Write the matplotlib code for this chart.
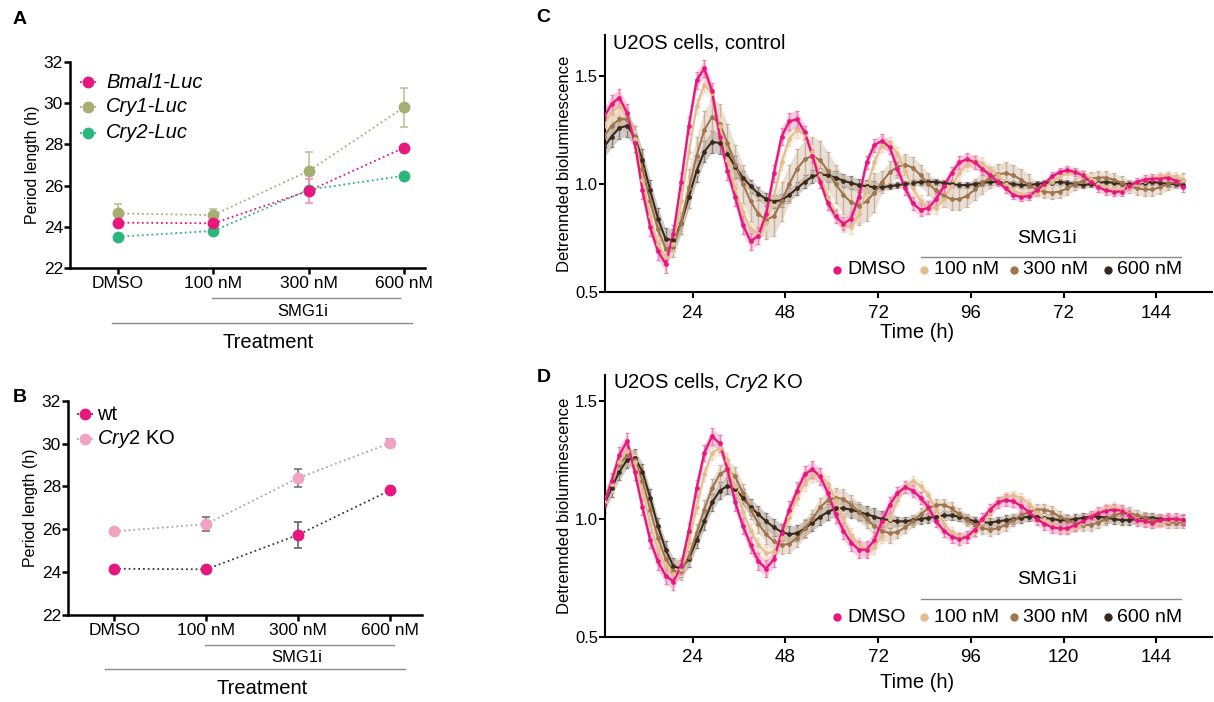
import numpy as np
import matplotlib
matplotlib.use('Agg')
import matplotlib.pyplot as plt
from matplotlib.lines import Line2D

plt.rcParams['font.family'] = ['Liberation Sans', 'DejaVu Sans']
plt.rcParams['mathtext.fontset'] = 'custom'
plt.rcParams['mathtext.rm'] = 'Liberation Sans'
plt.rcParams['mathtext.it'] = 'Liberation Sans:italic'

# ---- period length data (panels A, B) ----
treat = ['DMSO', '100 nM', '300 nM', '600 nM']
bmal1 = [24.2, 24.17, 25.74, 27.84]
bmal1_err = [0.0, 0.0, 0.6, 0.0]
cry1 = [24.65, 24.57, 26.71, 29.8]
cry1_err = [0.45, 0.3, 0.9, 0.95]
cry2 = [23.52, 23.8, 25.8, 26.48]
cry2_err = [0.0, 0.0, 0.0, 0.0]
wt = [24.16, 24.13, 25.74, 27.81]
wt_err = [0.0, 0.0, 0.6, 0.0]
ko = [25.9, 26.24, 28.39, 30.02]
ko_err = [0.0, 0.33, 0.4, 0.2]

# ---- detrended bioluminescence (panels C, D), every 2 h from 1 h ----
time_h = np.arange(1, 152, 2)

c_dmso = [1.31, 1.37, 1.40, 1.33, 1.19, 0.97, 0.80, 0.69, 0.63, 0.77,
          1.01, 1.27, 1.48, 1.535, 1.43, 1.22, 1.06, 0.94, 0.81, 0.735,
          0.76, 0.86, 1.05, 1.22, 1.29, 1.30, 1.24, 1.13, 1.01, 0.91,
          0.85, 0.815, 0.84, 0.94, 1.10, 1.18, 1.20, 1.17, 1.07, 0.98,
          0.91, 0.88, 0.89, 0.93, 0.99, 1.05, 1.10, 1.115, 1.10, 1.07,
          1.04, 1.01, 0.98, 0.95, 0.94, 0.945, 0.97, 1.00, 1.035, 1.055,
          1.065, 1.055, 1.04, 1.01, 0.985, 0.97, 0.965, 0.965, 0.99, 1.01,
          1.02, 1.025, 1.025, 1.03, 1.015, 0.985]
c_100 = [1.27, 1.33, 1.36, 1.33, 1.21, 1.02, 0.85, 0.72, 0.66, 0.72,
         0.92, 1.15, 1.36, 1.46, 1.42, 1.27, 1.11, 0.98, 0.87, 0.79,
         0.77, 0.82, 0.94, 1.10, 1.21, 1.25, 1.23, 1.15, 1.04, 0.94,
         0.86, 0.81, 0.80, 0.86, 0.98, 1.10, 1.18, 1.19, 1.14, 1.06,
         0.98, 0.92, 0.89, 0.89, 0.93, 0.99, 1.05, 1.09, 1.105, 1.095,
         1.07, 1.04, 1.00, 0.97, 0.955, 0.95, 0.96, 0.985, 1.01, 1.035,
         1.05, 1.055, 1.045, 1.025, 1.00, 0.985, 0.975, 0.975, 0.985, 1.00,
         1.015, 1.025, 1.035, 1.04, 1.035, 1.02]
c_300 = [1.22, 1.27, 1.30, 1.30, 1.22, 1.07, 0.92, 0.79, 0.70, 0.71,
         0.82, 0.98, 1.13, 1.25, 1.31, 1.28, 1.19, 1.09, 1.00, 0.92,
         0.86, 0.835, 0.85, 0.92, 1.00, 1.07, 1.115, 1.13, 1.11, 1.06,
         1.00, 0.95, 0.915, 0.90, 0.92, 0.96, 1.01, 1.055, 1.08, 1.09,
         1.075, 1.04, 1.00, 0.97, 0.945, 0.93, 0.93, 0.945, 0.975, 1.005,
         1.03, 1.045, 1.05, 1.04, 1.02, 0.995, 0.975, 0.965, 0.96, 0.965,
         0.98, 1.00, 1.015, 1.025, 1.03, 1.03, 1.02, 1.005, 0.99, 0.98,
         0.975, 0.975, 0.985, 1.00, 1.01, 1.02]
c_600 = [1.17, 1.22, 1.26, 1.27, 1.22, 1.11, 0.97, 0.84, 0.745, 0.74,
         0.82, 0.94, 1.06, 1.15, 1.195, 1.19, 1.14, 1.08, 1.03, 0.99,
         0.955, 0.93, 0.92, 0.925, 0.95, 0.98, 1.01, 1.035, 1.045, 1.04,
         1.03, 1.015, 1.005, 0.995, 0.99, 0.985, 0.985, 0.99, 0.995, 1.00,
         1.005, 1.01, 1.01, 1.01, 1.005, 1.00, 0.995, 0.995, 1.00, 1.005,
         1.01, 1.01, 1.005, 1.00, 0.995, 0.995, 1.00, 1.005, 1.005, 1.01,
         1.005, 1.00, 0.995, 1.00, 1.005, 1.01, 1.005, 1.00, 1.00, 1.00,
         1.005, 1.01, 1.005, 1.00, 1.00, 0.995]

d_dmso = [1.06, 1.16, 1.27, 1.33, 1.20, 1.05, 0.91, 0.82, 0.76, 0.735,
          0.80, 0.95, 1.13, 1.28, 1.35, 1.32, 1.21, 1.07, 0.97, 0.89,
          0.82, 0.79, 0.83, 0.94, 1.04, 1.12, 1.19, 1.21, 1.18, 1.11,
          1.02, 0.95, 0.90, 0.87, 0.87, 0.91, 0.99, 1.06, 1.11, 1.135,
          1.12, 1.09, 1.05, 0.99, 0.95, 0.925, 0.915, 0.925, 0.955, 1.00,
          1.04, 1.07, 1.08, 1.075, 1.055, 1.03, 1.00, 0.98, 0.965, 0.96,
          0.96, 0.975, 0.99, 1.01, 1.025, 1.035, 1.04, 1.035, 1.015, 0.995,
          0.99, 0.985, 0.995, 1.00, 1.00, 0.995]
d_100 = [1.07, 1.15, 1.24, 1.29, 1.24, 1.12, 0.98, 0.87, 0.80, 0.765,
         0.79, 0.90, 1.05, 1.19, 1.28, 1.30, 1.25, 1.14, 1.03, 0.95,
         0.89, 0.855, 0.86, 0.92, 1.01, 1.09, 1.15, 1.185, 1.185, 1.15,
         1.08, 1.00, 0.93, 0.89, 0.87, 0.88, 0.93, 1.00, 1.08, 1.14,
         1.16, 1.14, 1.10, 1.04, 0.98, 0.945, 0.925, 0.925, 0.945, 0.985,
         1.03, 1.07, 1.095, 1.10, 1.09, 1.065, 1.03, 1.00, 0.975, 0.96,
         0.955, 0.965, 0.985, 1.01, 1.03, 1.045, 1.05, 1.04, 1.02, 1.00,
         0.985, 0.98, 0.985, 0.99, 0.995, 0.99]
d_300 = [1.07, 1.15, 1.23, 1.27, 1.25, 1.16, 1.04, 0.92, 0.83, 0.78,
         0.78, 0.84, 0.94, 1.04, 1.13, 1.19, 1.21, 1.18, 1.11, 1.04,
         0.98, 0.935, 0.905, 0.89, 0.895, 0.92, 0.96, 1.00, 1.05, 1.08,
         1.09, 1.085, 1.06, 1.03, 1.00, 0.97, 0.95, 0.94, 0.945, 0.965,
         0.99, 1.02, 1.045, 1.06, 1.06, 1.045, 1.02, 0.995, 0.975, 0.96,
         0.955, 0.96, 0.975, 0.995, 1.015, 1.03, 1.04, 1.04, 1.03, 1.01,
         0.995, 0.98, 0.975, 0.975, 0.985, 1.00, 1.015, 1.025, 1.025, 1.015,
         1.005, 0.995, 0.99, 0.985, 0.985, 0.985]
d_600 = [1.06, 1.13, 1.20, 1.25, 1.26, 1.20, 1.09, 0.97, 0.87, 0.80,
         0.79, 0.83, 0.91, 0.99, 1.07, 1.12, 1.14, 1.125, 1.09, 1.05,
         1.02, 0.99, 0.965, 0.945, 0.935, 0.94, 0.96, 0.985, 1.01, 1.03,
         1.045, 1.045, 1.04, 1.03, 1.02, 1.01, 1.00, 0.995, 0.99, 0.99,
         0.995, 1.00, 1.005, 1.01, 1.015, 1.015, 1.01, 1.00, 0.99, 0.985,
         0.985, 0.99, 0.995, 1.00, 1.005, 1.01, 1.01, 1.005, 1.00, 0.995,
         0.995, 1.00, 1.005, 1.01, 1.01, 1.005, 1.00, 0.995, 0.995, 1.00,
         1.005, 1.005, 1.00, 0.995, 0.995, 0.995]

# SEM, read roughly per stretch of the trace
c_dmso_err = [0.04] * 26 + [0.03] * 24 + [0.02] * 26
c_100_err = [0.035] * 26 + [0.03] * 24 + [0.02] * 26
c_300_err = [0.05] * 11 + [0.09] * 25 + [0.05] * 20 + [0.03] * 20
c_600_err = [0.05] * 18 + [0.03] * 18 + [0.015] * 40
d_dmso_err = [0.035] * 38 + [0.025] * 38
d_100_err = [0.03] * 38 + [0.02] * 38
d_300_err = [0.04] * 38 + [0.025] * 38
d_600_err = [0.035] * 38 + [0.02] * 38

series_names = ['DMSO', '100 nM', '300 nM', '600 nM']
series_cols = ['#e8177d', '#e2bd8f', '#a0754d', '#3a281a']
err_cols = ['#f27db3', '#efd8bd', '#c9b19a', '#8a7e74']

W, H = 1214, 702


def fx(px):
    return px / W


def fy(py):
    return 1 - py / H


def rect(l, t, r, b):
    return [fx(l), fy(b), (r - l) / W, (b - t) / H]


fig = plt.figure(figsize=(W / 100, H / 100), dpi=100)


def style(ax, lw=1.8):
    for s in ['top', 'right']:
        ax.spines[s].set_visible(False)
    for s in ['left', 'bottom']:
        ax.spines[s].set_linewidth(lw)
    ax.tick_params(direction='out', length=4, width=lw)


def period_panel(box, xr, series, lines):
    ax = fig.add_axes(rect(*box))
    style(ax)
    x = np.arange(4)
    for vals, errs, col, lcol, ecol in series:
        ax.plot(x, vals, ls=':', lw=1.3, color=lcol, zorder=2)
        ax.errorbar(x, vals, yerr=errs, fmt='none', ecolor=ecol, elinewidth=1.1,
                    capsize=3, capthick=1.1, zorder=3)
        ax.plot(x, vals, 'o', ms=7.5, color=col, zorder=4)
    ax.set_xlim(*xr)
    ax.set_ylim(22, 32)
    ax.set_yticks([22, 24, 26, 28, 30, 32])
    ax.set_xticks(x)
    ax.set_xticklabels(treat, fontsize=12.5)
    ax.tick_params(axis='y', labelsize=12.5, pad=1)
    ax.tick_params(axis='x', pad=2)
    ax.set_ylabel('Period length (h)', fontsize=11.5, labelpad=3)
    # brackets below the axis
    (sy, sx0, sx1, stx, sty), (ty, tx0, tx1, ttx, tty) = lines
    fig.add_artist(Line2D([fx(sx0), fx(sx1)], [fy(sy), fy(sy)], color='#8a8a8a', lw=1))
    fig.text(fx(stx), fy(sty), 'SMG1i', fontsize=12, ha='center', va='center')
    fig.add_artist(Line2D([fx(tx0), fx(tx1)], [fy(ty), fy(ty)], color='#8a8a8a', lw=1))
    fig.text(fx(ttx), fy(tty), 'Treatment', fontsize=14.5, ha='center', va='center')
    return ax


# ---- Panel A ----
axA = period_panel((70, 62, 425, 268), (-0.503, 3.22),
                   [(cry1, cry1_err, '#a8ad74', '#a8ad74', '#b9bd8e'),
                    (cry2, cry2_err, '#2bb67a', '#2bb67a', '#2bb67a'),
                    (bmal1, bmal1_err, '#e8177d', '#e8177d', '#f08ab5')],
                   ((297.7, 212, 400, 303, 311.7), (322.7, 112, 412, 268, 342.7)))
for yy, lab, col in [(82, 'Bmal1-Luc', '#e8177d'), (107, 'Cry1-Luc', '#a8ad74'),
                     (133, 'Cry2-Luc', '#2bb67a')]:
    fig.add_artist(Line2D([fx(80), fx(97)], [fy(yy), fy(yy)], ls=':', lw=1.3, color=col))
    fig.add_artist(Line2D([fx(88)], [fy(yy)], marker='o', ms=7.5, color=col, lw=0))
    fig.text(fx(106), fy(yy), lab, fontsize=14.5, style='italic', ha='left', va='center')

# ---- Panel B ----
axB = period_panel((68, 400.7, 422, 615), (-0.504, 3.35),
                   [(ko, ko_err, '#f0a3c2', '#a8a8a8', '#6a6a6a'),
                    (wt, wt_err, '#e8177d', '#3a3a3a', '#555555')],
                   ((645, 205, 394, 297, 657), (669, 105, 405, 262, 688)))
for yy, lab, col, lcol in [(414, 'wt', '#e8177d', '#3a3a3a'),
                           (439, r'$\mathit{Cry}$2 KO', '#f0a3c2', '#a8a8a8')]:
    fig.add_artist(Line2D([fx(77), fx(93)], [fy(yy), fy(yy)], ls=':', lw=1.3, color=lcol))
    fig.add_artist(Line2D([fx(85)], [fy(yy)], marker='o', ms=7.5, color=col, lw=0))
    fig.text(fx(97), fy(yy), lab, fontsize=14.5, ha='left', va='center')


# ---- Panels C, D ----
def trace_panel(box, ylim, data, errs, title, ticklabels, leg_y, smg_y, line_y, xlab_y):
    ax = fig.add_axes(rect(*box))
    style(ax, lw=1.5)
    order = [3, 2, 1, 0]
    for k, i in enumerate(order):
        v = np.array(data[i])
        e = np.array(errs[i])
        ax.fill_between(time_h, v - e, v + e, color=err_cols[i], alpha=0.4, lw=0,
                        zorder=1 + k * 0.1)
        ax.errorbar(time_h, v, yerr=e, fmt='none', ecolor=err_cols[i],
                    elinewidth=1.0, capsize=1.4, capthick=0.9, zorder=2 + k * 0.1)
    widths = [1.7, 1.5, 1.5, 1.5]
    for k, i in enumerate(order):
        ax.plot(time_h, data[i], '-', lw=widths[i], color=series_cols[i],
                zorder=3 + k * 0.1)
        ax.plot(time_h, data[i], 'o', ms=3.4, mew=0, color=series_cols[i], zorder=3.5 + k * 0.1)
    ax.set_xlim(1.3, 158.4)
    ax.set_ylim(*ylim)
    ax.set_xticks([24, 48, 72, 96, 120, 144])
    ax.set_xticklabels(ticklabels, fontsize=13.5)
    ax.set_yticks([0.5, 1.0, 1.5])
    ax.set_yticklabels(['0.5', '1.0', '1.5'], fontsize=12)
    ax.tick_params(axis='y', pad=1)
    ax.tick_params(axis='x', pad=5)
    ax.set_ylabel('Detrennded bioluminescence', fontsize=12, labelpad=2)
    fig.text(fx(613), fy(box[1] + 8), title, fontsize=14.5, ha='left', va='center')
    fig.text(fx(917), fy(xlab_y), 'Time (h)', fontsize=14.5, ha='center', va='center')
    # legend row
    mk_x = [837, 924, 1014, 1108]
    tx_x = [847, 934, 1023, 1117]
    for i in range(4):
        fig.add_artist(Line2D([fx(mk_x[i])], [fy(leg_y)], marker='o', ms=6, mew=0,
                              color=series_cols[i], lw=0))
        fig.text(fx(tx_x[i]), fy(leg_y), series_names[i], fontsize=14, ha='left', va='center')
    fig.add_artist(Line2D([fx(921), fx(1181)], [fy(line_y), fy(line_y)], color='#8a8a8a', lw=1))
    fig.text(fx(1047), fy(smg_y), 'SMG1i', fontsize=14, ha='center', va='center')
    return ax


axC = trace_panel((605, 35, 1212, 292), (0.5, 1.69),
                  [c_dmso, c_100, c_300, c_600],
                  [c_dmso_err, c_100_err, c_300_err, c_600_err],
                  'U2OS cells, control', ['24', '48', '72', '96', '72', '144'],
                  270, 238, 257, 333)
axD = trace_panel((605, 375, 1212, 637), (0.5, 1.61),
                  [d_dmso, d_100, d_300, d_600],
                  [d_dmso_err, d_100_err, d_300_err, d_600_err],
                  r'U2OS cells, $\mathit{Cry}$2 KO', ['24', '48', '72', '96', '120', '144'],
                  617, 580, 599, 682)

# panel letters
for (px, py), let in zip([(20, 20), (20, 397), (543, 17), (544, 377)], 'ABCD'):
    fig.text(fx(px), fy(py), let, fontsize=14, fontweight='bold', ha='center', va='center')

fig.savefig('out.png', dpi=100)
